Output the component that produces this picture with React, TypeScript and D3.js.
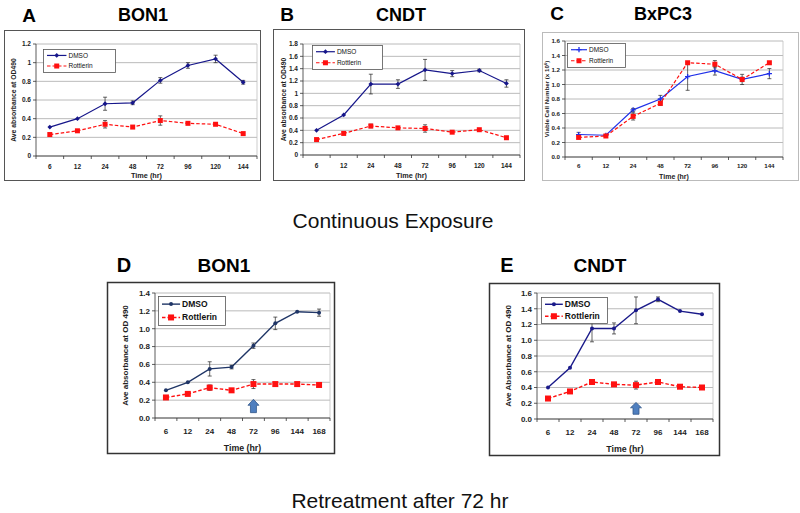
import React from "react";
import * as d3 from "d3";

// ---------- data ----------
const catsContinuous = ["6", "12", "24", "48", "72", "96", "120", "144"];
const catsRetreat = ["6", "12", "24", "48", "72", "96", "144", "168"];

const aDmso = [0.31, 0.40, 0.56, 0.57, 0.81, 0.97, 1.04, 0.79];
const aDmsoErr = [0.01, 0.01, 0.07, 0.02, 0.03, 0.03, 0.04, 0.02];
const aRott = [0.23, 0.27, 0.34, 0.31, 0.38, 0.35, 0.34, 0.24];
const aRottErr = [0.01, 0.01, 0.04, 0.01, 0.05, 0.01, 0.01, 0.01];

const bDmso = [0.40, 0.65, 1.15, 1.15, 1.38, 1.32, 1.37, 1.16];
const bDmsoErr = [0.01, 0.01, 0.16, 0.07, 0.17, 0.05, 0.02, 0.06];
const bRott = [0.25, 0.35, 0.47, 0.44, 0.43, 0.37, 0.41, 0.28];
const bRottErr = [0.01, 0.01, 0.03, 0.01, 0.06, 0.01, 0.01, 0.01];

const cDmso = [0.31, 0.30, 0.65, 0.80, 1.11, 1.19, 1.07, 1.15];
const cDmsoErr = [0.03, 0.01, 0.02, 0.05, 0.19, 0.06, 0.07, 0.07];
const cRott = [0.27, 0.29, 0.56, 0.74, 1.30, 1.28, 1.07, 1.30];
const cRottErr = [0.01, 0.01, 0.05, 0.03, 0.01, 0.05, 0.03, 0.01];

const dDmso = [0.31, 0.40, 0.55, 0.57, 0.81, 1.06, 1.19, 1.18];
const dDmsoErr = [0.01, 0.01, 0.08, 0.02, 0.03, 0.07, 0.01, 0.04];
const dRott = [0.23, 0.27, 0.34, 0.31, 0.38, 0.38, 0.38, 0.37];
const dRottErr = [0.01, 0.01, 0.03, 0.01, 0.05, 0.01, 0.01, 0.01];

const eDmso = [0.40, 0.65, 1.15, 1.15, 1.38, 1.52, 1.37, 1.33];
const eDmsoErr = [0.01, 0.01, 0.17, 0.07, 0.17, 0.03, 0.01, 0.01];
const eRott = [0.26, 0.35, 0.47, 0.44, 0.43, 0.47, 0.41, 0.40];
const eRottErr = [0.01, 0.01, 0.03, 0.01, 0.05, 0.01, 0.01, 0.01];

const seriesNames = ["DMSO", "Rottlerin"];
const retreatArrowAt = "72";

const FONT = "'Liberation Sans', Arial, Helvetica, sans-serif";

type PanelCfg = {
  letter: string;
  title: string;
  cats: string[];
  dmso: number[];
  dmsoErr: number[];
  rott: number[];
  rottErr: number[];
  yMax: number;
  yStep: number;
  fmt: (d: number) => string;
  yLabel: React.ReactNode;
  frame: { x: number; y: number; w: number; h: number; stroke: string; sw: number };
  plot: { l: number; t: number; r: number; b: number };
  legend: { x: number; y: number; w: number; h: number };
  letterPos: { x: number; y: number };
  titlePos: { x: number; y: number };
  titleSize: number;
  tickSize: number;
  legendSize: number;
  xLabY: number;
  xTitleY: number;
  yLabX: number;
  yLabSize: number;
  dmsoColor: string;
  dmsoMarker: "diamond" | "plus" | "circle";
  lw: number;
  sq: number;
  arrow?: string;
};

const fmtTrim = d3.format("~g");
const fmt1 = d3.format(".1f");

const panels: PanelCfg[] = [
  {
    letter: "A", title: "BON1", cats: catsContinuous,
    dmso: aDmso, dmsoErr: aDmsoErr, rott: aRott, rottErr: aRottErr,
    yMax: 1.2, yStep: 0.2, fmt: fmtTrim,
    yLabel: "Ave absorbance at OD490",
    frame: { x: 4.5, y: 30.5, w: 256, h: 150, stroke: "#555", sw: 1 },
    plot: { l: 36, t: 44, r: 257, b: 156 },
    legend: { x: 43, y: 49, w: 72, h: 23 },
    letterPos: { x: 29, y: 22 }, titlePos: { x: 143, y: 21 }, titleSize: 18,
    tickSize: 6.5, legendSize: 6.5, xLabY: 167, xTitleY: 175, yLabX: 14, yLabSize: 6.8,
    dmsoColor: "#16168a", dmsoMarker: "diamond", lw: 1.2, sq: 5,
  },
  {
    letter: "B", title: "CNDT", cats: catsContinuous,
    dmso: bDmso, dmsoErr: bDmsoErr, rott: bRott, rottErr: bRottErr,
    yMax: 1.8, yStep: 0.2, fmt: fmtTrim,
    yLabel: "Ave absorbance  at OD490",
    frame: { x: 273.5, y: 29.5, w: 251, h: 151, stroke: "#555", sw: 1 },
    plot: { l: 303, t: 44, r: 520, b: 155 },
    legend: { x: 312, y: 45, w: 70, h: 24 },
    letterPos: { x: 287, y: 21 }, titlePos: { x: 401, y: 21 }, titleSize: 18,
    tickSize: 6.5, legendSize: 6.5, xLabY: 166, xTitleY: 175, yLabX: 284, yLabSize: 6.8,
    dmsoColor: "#16168a", dmsoMarker: "diamond", lw: 1.2, sq: 5,
  },
  {
    letter: "C", title: "BxPC3", cats: catsContinuous,
    dmso: cDmso, dmsoErr: cDmsoErr, rott: cRott, rottErr: cRottErr,
    yMax: 1.6, yStep: 0.2, fmt: fmt1,
    yLabel: (
      <>
        Viable Cell Number (x 10
        <tspan baselineShift="super" fontSize="4.2">6</tspan>)
      </>
    ),
    frame: { x: 542.5, y: 32.5, w: 256, h: 148, stroke: "#bbb", sw: 1 },
    plot: { l: 565, t: 41, r: 783, b: 157 },
    legend: { x: 567, y: 43, w: 58, h: 24 },
    letterPos: { x: 557, y: 20 }, titlePos: { x: 663, y: 20 }, titleSize: 18,
    tickSize: 6.2, legendSize: 6.5, xLabY: 166, xTitleY: 176.5, yLabX: 547, yLabSize: 6.2,
    dmsoColor: "#2030e8", dmsoMarker: "plus", lw: 1.2, sq: 5,
  },
  {
    letter: "D", title: "BON1", cats: catsRetreat,
    dmso: dDmso, dmsoErr: dDmsoErr, rott: dRott, rottErr: dRottErr,
    yMax: 1.4, yStep: 0.2, fmt: fmt1,
    yLabel: "Ave absorbance  at OD 490",
    frame: { x: 107.5, y: 282.5, w: 227, h: 171, stroke: "#333", sw: 1.5 },
    plot: { l: 155, t: 293, r: 330, b: 418 },
    legend: { x: 158, y: 296, w: 67, h: 29 },
    letterPos: { x: 124, y: 272 }, titlePos: { x: 224, y: 272 }, titleSize: 19,
    tickSize: 8, legendSize: 8.5, xLabY: 431, xTitleY: 448, yLabX: 125, yLabSize: 8,
    dmsoColor: "#1f3566", dmsoMarker: "circle", lw: 1.4, sq: 6,
    arrow: retreatArrowAt,
  },
  {
    letter: "E", title: "CNDT", cats: catsRetreat,
    dmso: eDmso, dmsoErr: eDmsoErr, rott: eRott, rottErr: eRottErr,
    yMax: 1.6, yStep: 0.2, fmt: fmt1,
    yLabel: "Ave Absorbance  at OD 490",
    frame: { x: 489.5, y: 283.5, w: 230, h: 172, stroke: "#333", sw: 1.5 },
    plot: { l: 537, t: 293, r: 713, b: 419 },
    legend: { x: 541, y: 297, w: 66, h: 26 },
    letterPos: { x: 507, y: 272 }, titlePos: { x: 600, y: 272 }, titleSize: 19,
    tickSize: 8, legendSize: 8.5, xLabY: 432, xTitleY: 449, yLabX: 508, yLabSize: 8,
    dmsoColor: "#1a1a8a", dmsoMarker: "circle", lw: 1.4, sq: 6,
    arrow: retreatArrowAt,
  },
];

const ROTT = "#ff1010";

function Marker({ kind, x, y, color, sq }: { kind: string; x: number; y: number; color: string; sq: number }) {
  if (kind === "diamond") {
    const r = 2.4;
    return <path d={`M${x},${y - r}L${x + r},${y}L${x},${y + r}L${x - r},${y}Z`} fill={color} />;
  }
  if (kind === "plus") {
    const r = 2.6;
    return (
      <path d={`M${x - r},${y}H${x + r}M${x},${y - r}V${y + r}`} stroke={color} strokeWidth={1.3} />
    );
  }
  if (kind === "circle") {
    return <circle cx={x} cy={y} r={2} fill={color} />;
  }
  return <rect x={x - sq / 2} y={y - sq / 2} width={sq} height={sq} fill={color} />;
}

function Panel({ p }: { p: PanelCfg }) {
  const { l, t, r, b } = p.plot;
  const x = d3.scalePoint<string>().domain(p.cats).range([l, r]).padding(0.5);
  const y = d3.scaleLinear().domain([0, p.yMax]).range([b, t]);
  const ticks = d3.range(0, p.yMax + p.yStep / 2, p.yStep).map((v) => +v.toFixed(2));
  const step = x.step();
  const line = d3
    .line<number>()
    .x((_, i) => x(p.cats[i]) as number)
    .y((v) => y(v));

  const series = [
    { name: seriesNames[0], vals: p.dmso, err: p.dmsoErr, color: p.dmsoColor, dash: undefined as string | undefined, marker: p.dmsoMarker },
    { name: seriesNames[1], vals: p.rott, err: p.rottErr, color: ROTT, dash: "3.5,2", marker: "square" },
  ];

  const lg = p.legend;
  const rowYs = [lg.y + lg.h * 0.28, lg.y + lg.h * 0.74];
  const sampleW = Math.max(16, lg.w * 0.27);

  let arrowEl = null;
  if (p.arrow) {
    const ax = x(p.arrow) as number;
    const tipY = y(0.21);
    const baseY = y(0.06);
    const headH = (baseY - tipY) * 0.45;
    const hw = 5.5;
    const bw = 3;
    arrowEl = (
      <path
        d={`M${ax},${tipY}L${ax + hw},${tipY + headH}L${ax + bw},${tipY + headH}L${ax + bw},${baseY}L${ax - bw},${baseY}L${ax - bw},${tipY + headH}L${ax - hw},${tipY + headH}Z`}
        fill="#4f7fbf"
        stroke="#35598c"
        strokeWidth={0.8}
      />
    );
  }

  return (
    <g fontFamily={FONT}>
      <text x={p.letterPos.x} y={p.letterPos.y} fontSize={p.titleSize + 1} fontWeight="bold" textAnchor="middle">
        {p.letter}
      </text>
      <text x={p.titlePos.x} y={p.titlePos.y} fontSize={p.titleSize} fontWeight="bold" textAnchor="middle">
        {p.title}
      </text>
      <rect x={p.frame.x} y={p.frame.y} width={p.frame.w} height={p.frame.h} fill="white" stroke={p.frame.stroke} strokeWidth={p.frame.sw} />
      {ticks.map((v) => (
        <line key={"g" + v} x1={l} x2={r} y1={y(v)} y2={y(v)} stroke="#a8a8a8" strokeWidth={0.8} />
      ))}
      <line x1={r} x2={r} y1={t} y2={b} stroke="#c0c0c0" strokeWidth={0.8} />
      <line x1={l} x2={l} y1={t} y2={b} stroke="#333" strokeWidth={0.8} />
      {ticks.map((v) => (
        <g key={"t" + v}>
          <line x1={l - 3} x2={l} y1={y(v)} y2={y(v)} stroke="#333" strokeWidth={0.8} />
          <text x={l - 5} y={y(v)} dy="0.35em" fontSize={p.tickSize} fontWeight="bold" textAnchor="end" fill="#222">
            {p.fmt(v)}
          </text>
        </g>
      ))}
      <line x1={l} x2={r} y1={b} y2={b} stroke="#333" strokeWidth={0.8} />
      {d3.range(p.cats.length + 1).map((i) => (
        <line key={"xt" + i} x1={l + i * step} x2={l + i * step} y1={b} y2={b + 3} stroke="#333" strokeWidth={0.8} />
      ))}
      {p.cats.map((c) => (
        <text key={"xl" + c} x={x(c)} y={p.xLabY} dy="0.35em" fontSize={p.tickSize} fontWeight="bold" textAnchor="middle" fill="#222">
          {c}
        </text>
      ))}
      <text x={(l + r) / 2} y={p.xTitleY} dy="0.35em" fontSize={p.tickSize + 0.8} fontWeight="bold" textAnchor="middle" fill="#222">
        Time (hr)
      </text>
      <text
        transform={`translate(${p.yLabX},${(t + b) / 2}) rotate(-90)`}
        dy="0.35em"
        fontSize={p.yLabSize}
        fontWeight="bold"
        textAnchor="middle"
        fill="#222"
      >
        {p.yLabel}
      </text>
      {series.map((s) => (
        <g key={s.name}>
          <path d={line(s.vals) as string} fill="none" stroke={s.color} strokeWidth={p.lw} strokeDasharray={s.dash} />
          {s.vals.map((v, i) =>
            s.err[i] > 0.015 ? (
              <g key={"e" + i} stroke="#222" strokeWidth={0.7}>
                <line x1={x(p.cats[i])} x2={x(p.cats[i])} y1={y(v - s.err[i])} y2={y(v + s.err[i])} />
                <line x1={(x(p.cats[i]) as number) - 2} x2={(x(p.cats[i]) as number) + 2} y1={y(v - s.err[i])} y2={y(v - s.err[i])} />
                <line x1={(x(p.cats[i]) as number) - 2} x2={(x(p.cats[i]) as number) + 2} y1={y(v + s.err[i])} y2={y(v + s.err[i])} />
              </g>
            ) : null
          )}
          {s.vals.map((v, i) => (
            <Marker key={"m" + i} kind={s.marker} x={x(p.cats[i]) as number} y={y(v)} color={s.color} sq={p.sq} />
          ))}
        </g>
      ))}
      {arrowEl}
      <rect x={lg.x + 0.5} y={lg.y + 0.5} width={lg.w} height={lg.h} fill="white" stroke="#555" strokeWidth={0.8} />
      {series.map((s, i) => (
        <g key={"lg" + s.name}>
          <line x1={lg.x + 4} x2={lg.x + 4 + sampleW} y1={rowYs[i]} y2={rowYs[i]} stroke={s.color} strokeWidth={p.lw} strokeDasharray={s.dash} />
          <Marker kind={s.marker} x={lg.x + 4 + sampleW / 2} y={rowYs[i]} color={s.color} sq={p.sq} />
          <text x={lg.x + 6 + sampleW} y={rowYs[i]} dy="0.35em" fontSize={p.legendSize} fill="#111" fontWeight={p.legendSize > 8 ? "bold" : "normal"}>
            {s.name}
          </text>
        </g>
      ))}
    </g>
  );
}

export default function App() {
  return (
    <svg
      width={800}
      height={513}
      style={{ position: "absolute", left: 0, top: 0, background: "white" }}
      fontFamily={FONT}
    >
      <rect width={800} height={513} fill="white" />
      {panels.map((p) => (
        <Panel key={p.letter} p={p} />
      ))}
      <text x={393} y={228} fontSize={21} textAnchor="middle" fill="#111">
        Continuous Exposure
      </text>
      <text x={400} y={508} fontSize={21} textAnchor="middle" fill="#111">
        Retreatment after 72 hr
      </text>
    </svg>
  );
}
